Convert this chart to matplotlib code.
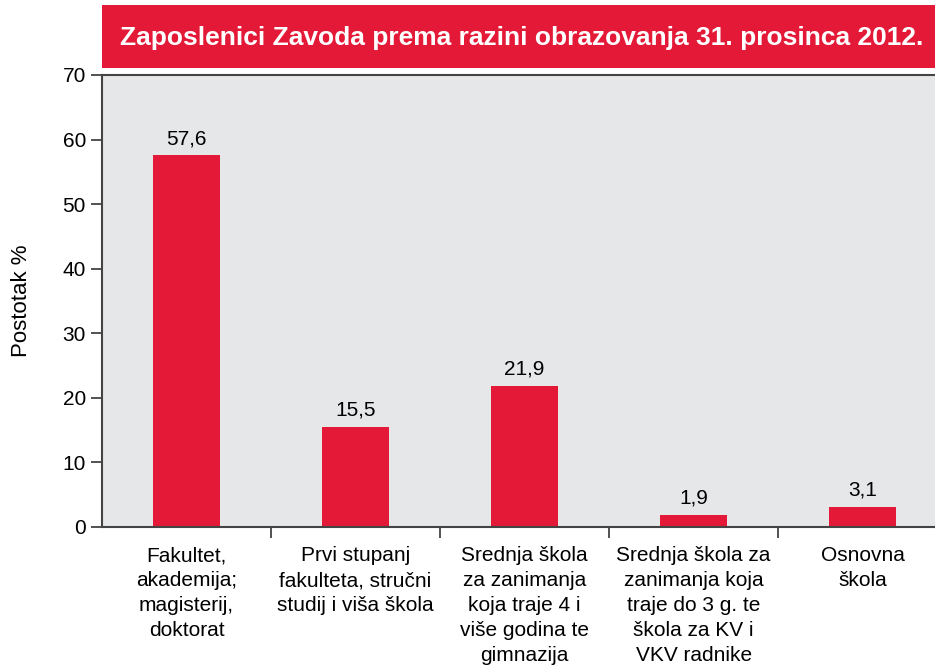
import matplotlib.pyplot as plt
from matplotlib.patches import Rectangle

plt.rcParams['font.family'] = ['Liberation Sans', 'DejaVu Sans']

kategorije = [
    "Fakultet,\nakademija;\nmagisterij,\ndoktorat",
    "Prvi stupanj\nfakulteta, stručni\nstudij i viša škola",
    "Srednja škola\nza zanimanja\nkoja traje 4 i\nviše godina te\ngimnazija",
    "Srednja škola za\nzanimanja koja\ntraje do 3 g. te\nškola za KV i\nVKV radnike",
    "Osnovna\nškola",
]
postotak = [57.6, 15.5, 21.9, 1.9, 3.1]
oznake = ["57,6", "15,5", "21,9", "1,9", "3,1"]

crvena = "#E31937"
siva = "#E6E7E8"

fig = plt.figure(figsize=(9.35, 6.67), dpi=100)
ax = fig.add_axes([0.109, 0.21, 0.904, 0.6776])
ax.set_facecolor(siva)

x = range(len(postotak))
ax.bar(x, postotak, width=0.4, color=crvena, zorder=2)
for i, v in enumerate(postotak):
    ax.annotate(oznake[i], (i, v), xytext=(0, 5), textcoords="offset points",
                ha="center", va="bottom", fontsize=15)

ax.set_xlim(-0.5, 4.5)
ax.set_ylim(0, 70)
ax.set_yticks(range(0, 71, 10))
ax.tick_params(axis="y", labelsize=15, length=8, width=1.2, direction="out", color="#333333")

ax.set_xticks(list(x))
ax.set_xticklabels(kategorije, fontsize=15, linespacing=1.4, va="top")
ax.tick_params(axis="x", which="major", length=0, pad=14)
ax.set_xticks([0.5, 1.5, 2.5, 3.5], minor=True)
ax.tick_params(axis="x", which="minor", length=8, width=1.2, direction="out", color="#333333")

for s in ["left", "bottom", "top"]:
    ax.spines[s].set_color("#444444")
    ax.spines[s].set_linewidth(1.5)
ax.spines["right"].set_visible(False)

ax.set_ylabel("Postotak %", fontsize=16, labelpad=22)

# naslov u crvenom okviru
fig.patches.append(Rectangle((0.109, 0.898), 0.891, 0.0945, transform=fig.transFigure,
                             facecolor=crvena, edgecolor="none"))
fig.text(0.558, 0.943, "Zaposlenici Zavoda prema razini obrazovanja 31. prosinca 2012.",
         color="white", fontsize=19, fontweight="bold", ha="center", va="center")

fig.savefig("out.png", dpi=100)
